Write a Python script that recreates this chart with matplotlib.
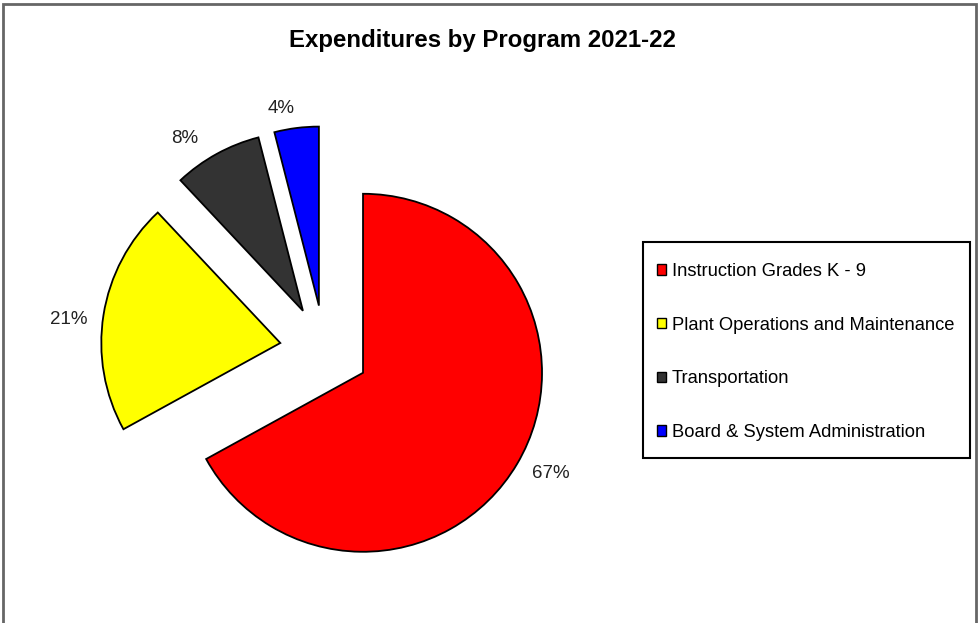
import numpy as np
import matplotlib.pyplot as plt
from matplotlib.patches import Rectangle

# chart data
programs = ["Instruction Grades K - 9", "Plant Operations and Maintenance",
            "Transportation", "Board & System Administration"]
shares = [67, 21, 8, 4]
colors = ["#ff0000", "#ffff00", "#333333", "#0000ff"]
explode = [0.25, 0.25, 0.25, 0.25]

W, H = 979, 623
CX, CY, R = 324.5, 350, 179  # pie centre and radius in pixels

plt.rcParams['font.family'] = ['Liberation Sans', 'DejaVu Sans']

fig = plt.figure(figsize=(W / 100, H / 100), dpi=100)
ax = fig.add_axes([0, 0, 1, 1])

wedges, texts, autotexts = ax.pie(
    shares, colors=colors, explode=explode, startangle=90, counterclock=False,
    autopct='%1.0f%%', pctdistance=1.18, radius=1,
    wedgeprops=dict(edgecolor='black', linewidth=1.3),
    textprops=dict(fontsize=13.5, color='#222222'))

# the original places the % labels a bit off the wedge middle
shift = [2.5, 2.8, 5.6, 3.6]    # degrees, anticlockwise
dist = [1.19, 1.19, 1.165, 1.12]
for w, ex, t, s, d in zip(wedges, explode, autotexts, shift, dist):
    mid = np.deg2rad((w.theta1 + w.theta2) / 2)
    ang = mid + np.deg2rad(s)
    cx, cy = ex * np.cos(mid), ex * np.sin(mid)
    t.set_position((cx + d * np.cos(ang), cy + d * np.sin(ang)))

ax.set_aspect('auto')
ax.set_xlim(-CX / R, (W - CX) / R)
ax.set_ylim((CY - H) / R, CY / R)
ax.axis('off')

fig.text(482 / W, 1 - 40 / H, "Expenditures by Program 2021-22",
         ha='center', va='center', fontsize=17.3, fontweight='bold')

leg = fig.legend(wedges, programs, loc='center left',
                 bbox_to_anchor=(657 / W, 1 - 352 / H), borderaxespad=0,
                 borderpad=0, fontsize=13.2, frameon=False,
                 handlelength=0.49, handleheight=0.49,
                 handletextpad=0.33, labelspacing=2.0)
for h in leg.legend_handles:
    h.set_linewidth(1.0)

# legend box
fig.patches.append(Rectangle((643 / W, 1 - 458 / H), 327 / W, 216 / H,
                             transform=fig.transFigure, fill=False,
                             edgecolor='black', linewidth=1.5))

# outer border of the chart area
fig.patches.append(Rectangle((3 / W, -0.05), 973 / W, 1.05 - 4 / H,
                             transform=fig.transFigure, fill=False,
                             edgecolor='#666666', linewidth=2))

fig.savefig("out.png", dpi=100)
